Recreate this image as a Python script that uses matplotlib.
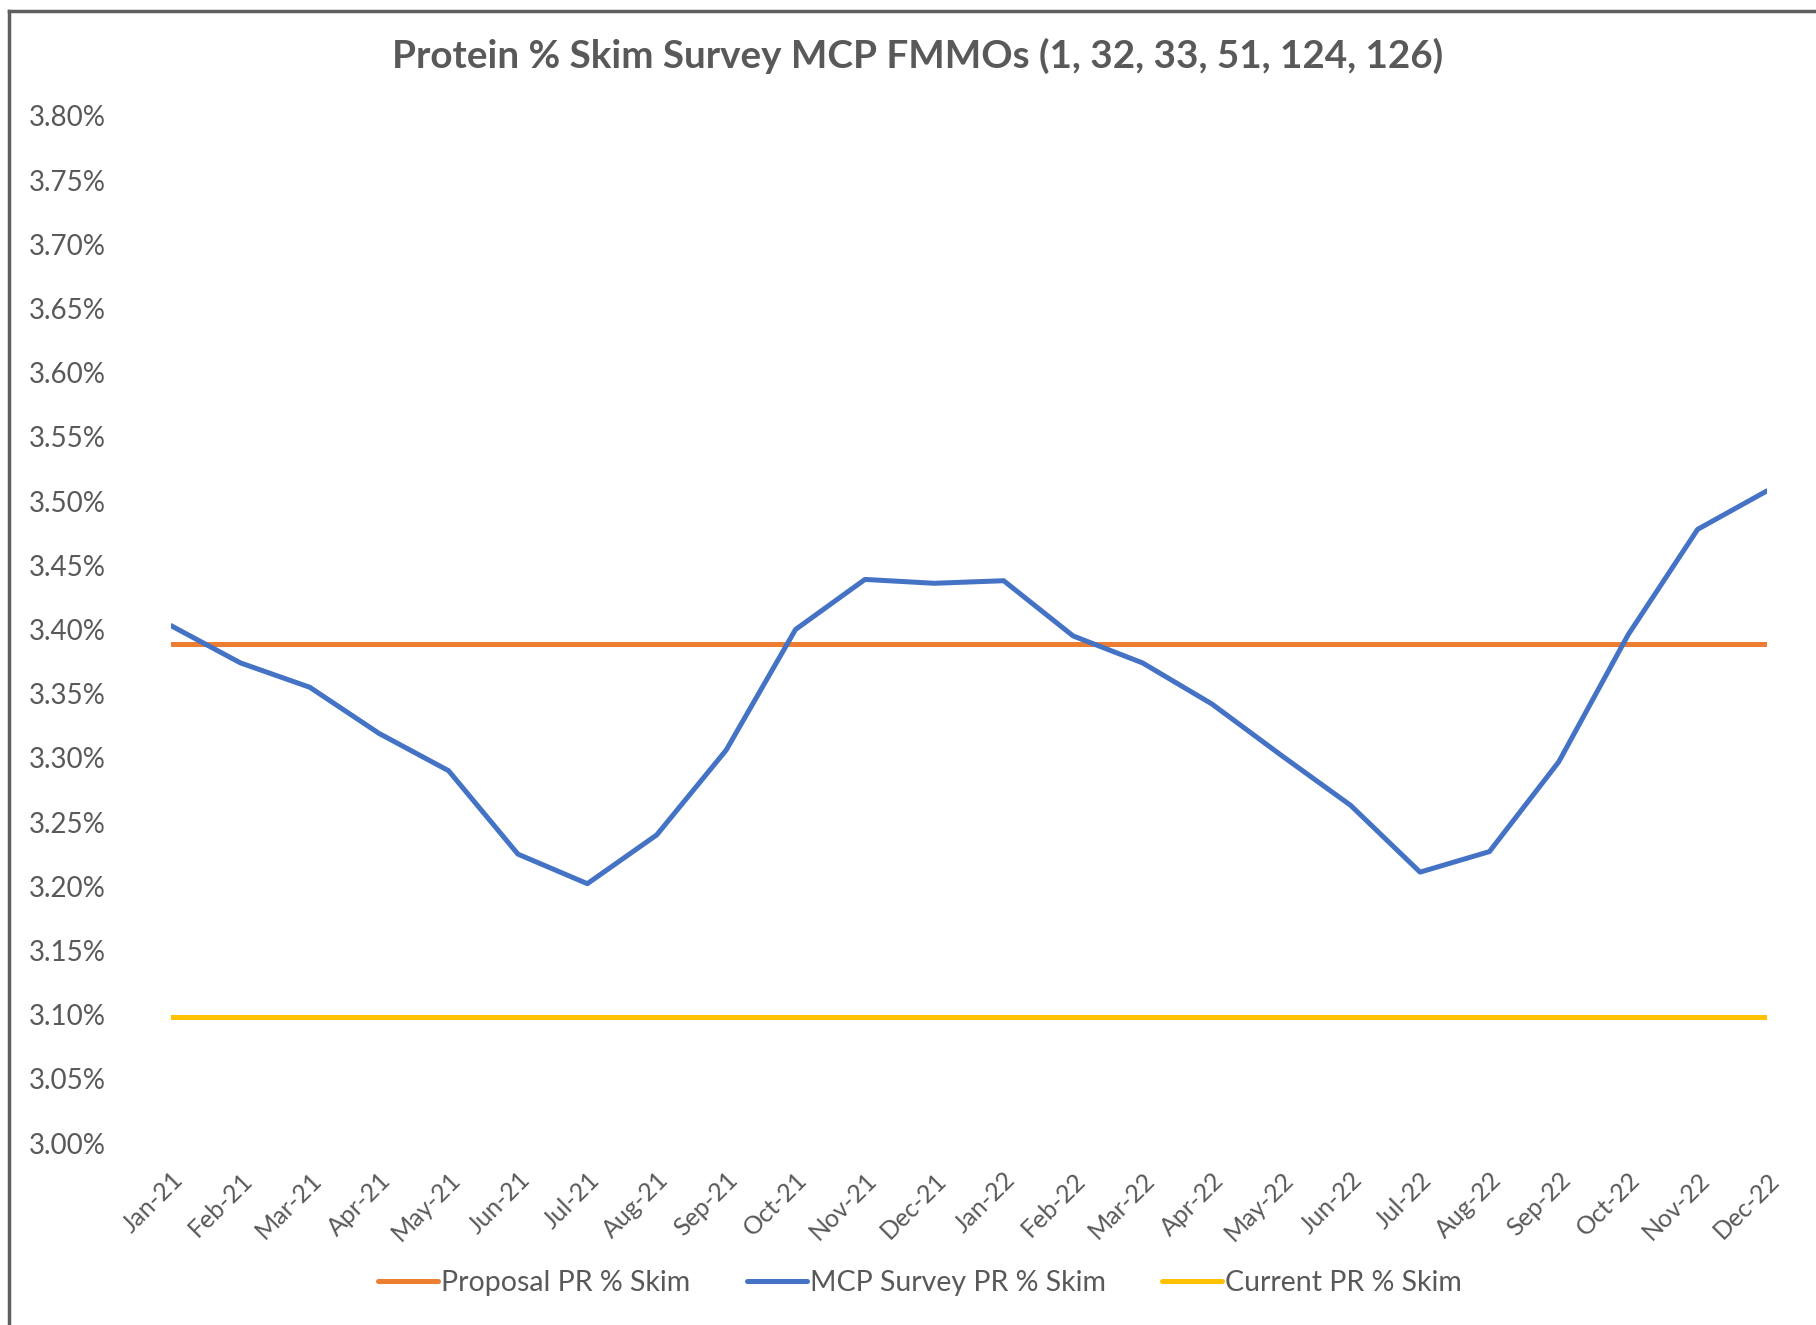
import matplotlib
matplotlib.use("Agg")
import matplotlib.pyplot as plt
from matplotlib.lines import Line2D
from matplotlib.ticker import FuncFormatter

# ---------------------------------------------------------------------
# data
# ---------------------------------------------------------------------
months = ["Jan-21", "Feb-21", "Mar-21", "Apr-21", "May-21", "Jun-21",
          "Jul-21", "Aug-21", "Sep-21", "Oct-21", "Nov-21", "Dec-21",
          "Jan-22", "Feb-22", "Mar-22", "Apr-22", "May-22", "Jun-22",
          "Jul-22", "Aug-22", "Sep-22", "Oct-22", "Nov-22", "Dec-22"]
mcp_survey = [3.403, 3.374, 3.355, 3.319, 3.290, 3.225, 3.202, 3.240,
              3.306, 3.400, 3.439, 3.436, 3.438, 3.395, 3.374, 3.342,
              3.302, 3.263, 3.211, 3.227, 3.297, 3.396, 3.478, 3.508]
proposal = [3.389] * len(months)
current = [3.098] * len(months)
y_ticks = [3.00 + 0.05 * i for i in range(17)]

TEXT = '#595959'
plt.rcParams['font.family'] = ['Lato', 'DejaVu Sans']

fig = plt.figure(figsize=(18.16, 13.25), dpi=100, facecolor='white')
ax = fig.add_axes([171 / 1816, 1 - 1143 / 1325, (1767 - 171) / 1816, (1143 - 116) / 1325])

x = list(range(len(months)))
ax.plot(x, proposal, color='#ED7D31', lw=3.6, solid_capstyle='round', label='Proposal PR % Skim')
ax.plot(x, mcp_survey, color='#4472C4', lw=3.6, solid_capstyle='round', label='MCP Survey PR % Skim')
ax.plot(x, current, color='#FFC000', lw=3.6, solid_capstyle='round', label='Current PR % Skim')

ax.set_xlim(0, len(months) - 1)
ax.set_ylim(3.0, 3.8)
ax.set_yticks(y_ticks)
ax.yaxis.set_major_formatter(FuncFormatter(lambda v, p: f"{v:.2f}%"))
ax.set_xticks(x)
ax.set_xticklabels(months, rotation=45, ha='right', rotation_mode='anchor')
# pad is in points: ~66 px gap between labels and first category
ax.tick_params(axis='y', length=0, pad=47, labelsize=20, labelcolor=TEXT)
ax.tick_params(axis='x', length=0, pad=18, labelsize=18, labelcolor=TEXT)
for s in ax.spines.values():
    s.set_visible(False)

fig.text(918 / 1816, 1 - 56 / 1325, "Protein % Skim Survey MCP FMMOs (1, 32, 33, 51, 124, 126)",
         ha='center', va='center', fontsize=27.8, fontweight='bold', color=TEXT)

fig.legend(loc='center', bbox_to_anchor=(920 / 1816, 1 - 1283 / 1325), ncol=3, frameon=False,
           fontsize=20.5, handlelength=2.1, handletextpad=0.1, columnspacing=2.0,
           labelcolor=TEXT)

# chart frame (left and top edges visible in the crop)
fig.add_artist(Line2D([9 / 1816, 9 / 1816], [0, 1 - 11 / 1325], color='#5f5f5f', lw=2.5))
fig.add_artist(Line2D([9 / 1816, 1], [1 - 11 / 1325, 1 - 11 / 1325], color='#5f5f5f', lw=2.5))

fig.savefig("out.png", dpi=100, facecolor='white')
